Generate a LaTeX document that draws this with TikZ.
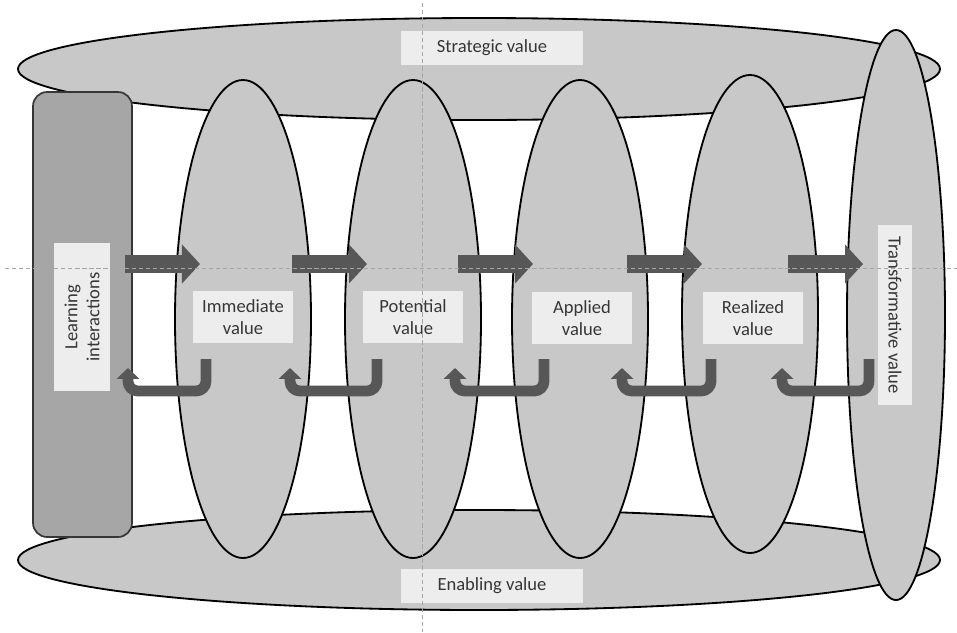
\documentclass[tikz,border=0pt]{standalone}
\usepackage{fontspec}
\setmainfont{Carlito}
\usetikzlibrary{arrows.meta}
\RequirePackage{xcolor}
\definecolor{ovalgray}{HTML}{C8C8C8}
\definecolor{boxgray}{HTML}{A6A6A6}
\definecolor{tagfill}{HTML}{EDEDED}
\definecolor{arrowgray}{HTML}{575757}
\definecolor{textgray}{HTML}{363636}

\begin{document}
\begin{tikzpicture}[x=0.025cm, y=-0.025cm,
    oval/.style={fill=ovalgray, draw=black, line width=1.3pt},
    valbox/.style={fill=tagfill, text=textgray, font=\fontsize{13.2}{15.6}\selectfont,
      align=center, inner sep=0pt},
    fwd/.style={draw=arrowgray, line width=0.45cm,
      -{Triangle[width=0.95cm, length=0.45cm]}},
    back/.style={draw=arrowgray, line width=0.27cm, rounded corners=7pt,
      -{Triangle[width=0.55cm, length=0.27cm]}},
    guide/.style={draw=gray!70, thin, dash pattern=on 3pt off 2pt}]
  \useasboundingbox (0,0) rectangle (957,632);

  % strategic and enabling rings
  \draw[oval] (479,69) ellipse [x radius=461, y radius=51];
  \draw[oval] (479,560) ellipse [x radius=461, y radius=50];

  % learning block
  \draw[fill=boxgray, draw=textgray, line width=1.2pt, rounded corners=10pt]
    (33,92) rectangle (132,537);

  % value ovals
  \foreach \cx/\cy in {243/319, 413/319, 580/319, 750/314}
    \draw[oval] (\cx,\cy) ellipse [x radius=68, y radius=239];
  \draw[oval] (896,315) ellipse [x radius=49, y radius=285];

  % forward arrows
  \foreach \x [count=\i] in {125,292,458,627,788} {
    \coordinate (s\i) at (\x,264);
    \coordinate (t\i) at (\x+75,264);
    \draw[fwd] (s\i) -- (t\i);
  }

  % return arrows
  \foreach \xr/\xl [count=\i] in {206/128, 377/290, 544/455, 711/622, 869/782} {
    \coordinate (u\i) at (\xr,359);
    \coordinate (v\i) at (\xl,368);
    \draw[back] (u\i) -- (u\i |- 0,391) -- (v\i |- 0,391) -- (v\i);
  }

  % labels
  \node[valbox, minimum width=4.525cm, minimum height=0.825cm] (strat) at (492,48) {Strategic value};
  \node[valbox, minimum width=4.525cm, minimum height=0.85cm] (enab) at (492,586) {Enabling value};
  \node[valbox, rotate=90, minimum width=3.7cm, minimum height=1.375cm] (learn) at (82,317) {Learning\\interactions};
  \node[valbox, minimum width=2.5cm, minimum height=1.3cm] (imm) at (243,317) {Immediate\\value};
  \node[valbox, minimum width=2.5cm, minimum height=1.3cm] (pot) at (413,317) {Potential\\value};
  \node[valbox, minimum width=2.5cm, minimum height=1.3cm] (appl) at (582,318) {Applied\\value};
  \node[valbox, minimum width=2.5cm, minimum height=1.3cm] (real) at (753,318) {Realized\\value};
  \node[valbox, rotate=-90, minimum width=4.5cm, minimum height=0.85cm] (trans) at (895,315) {Transformative value};

  % guide lines
  \draw[guide] (5,268) -- (957,268);
  \draw[guide] (422,3) -- (422,632);
\end{tikzpicture}
\end{document}
